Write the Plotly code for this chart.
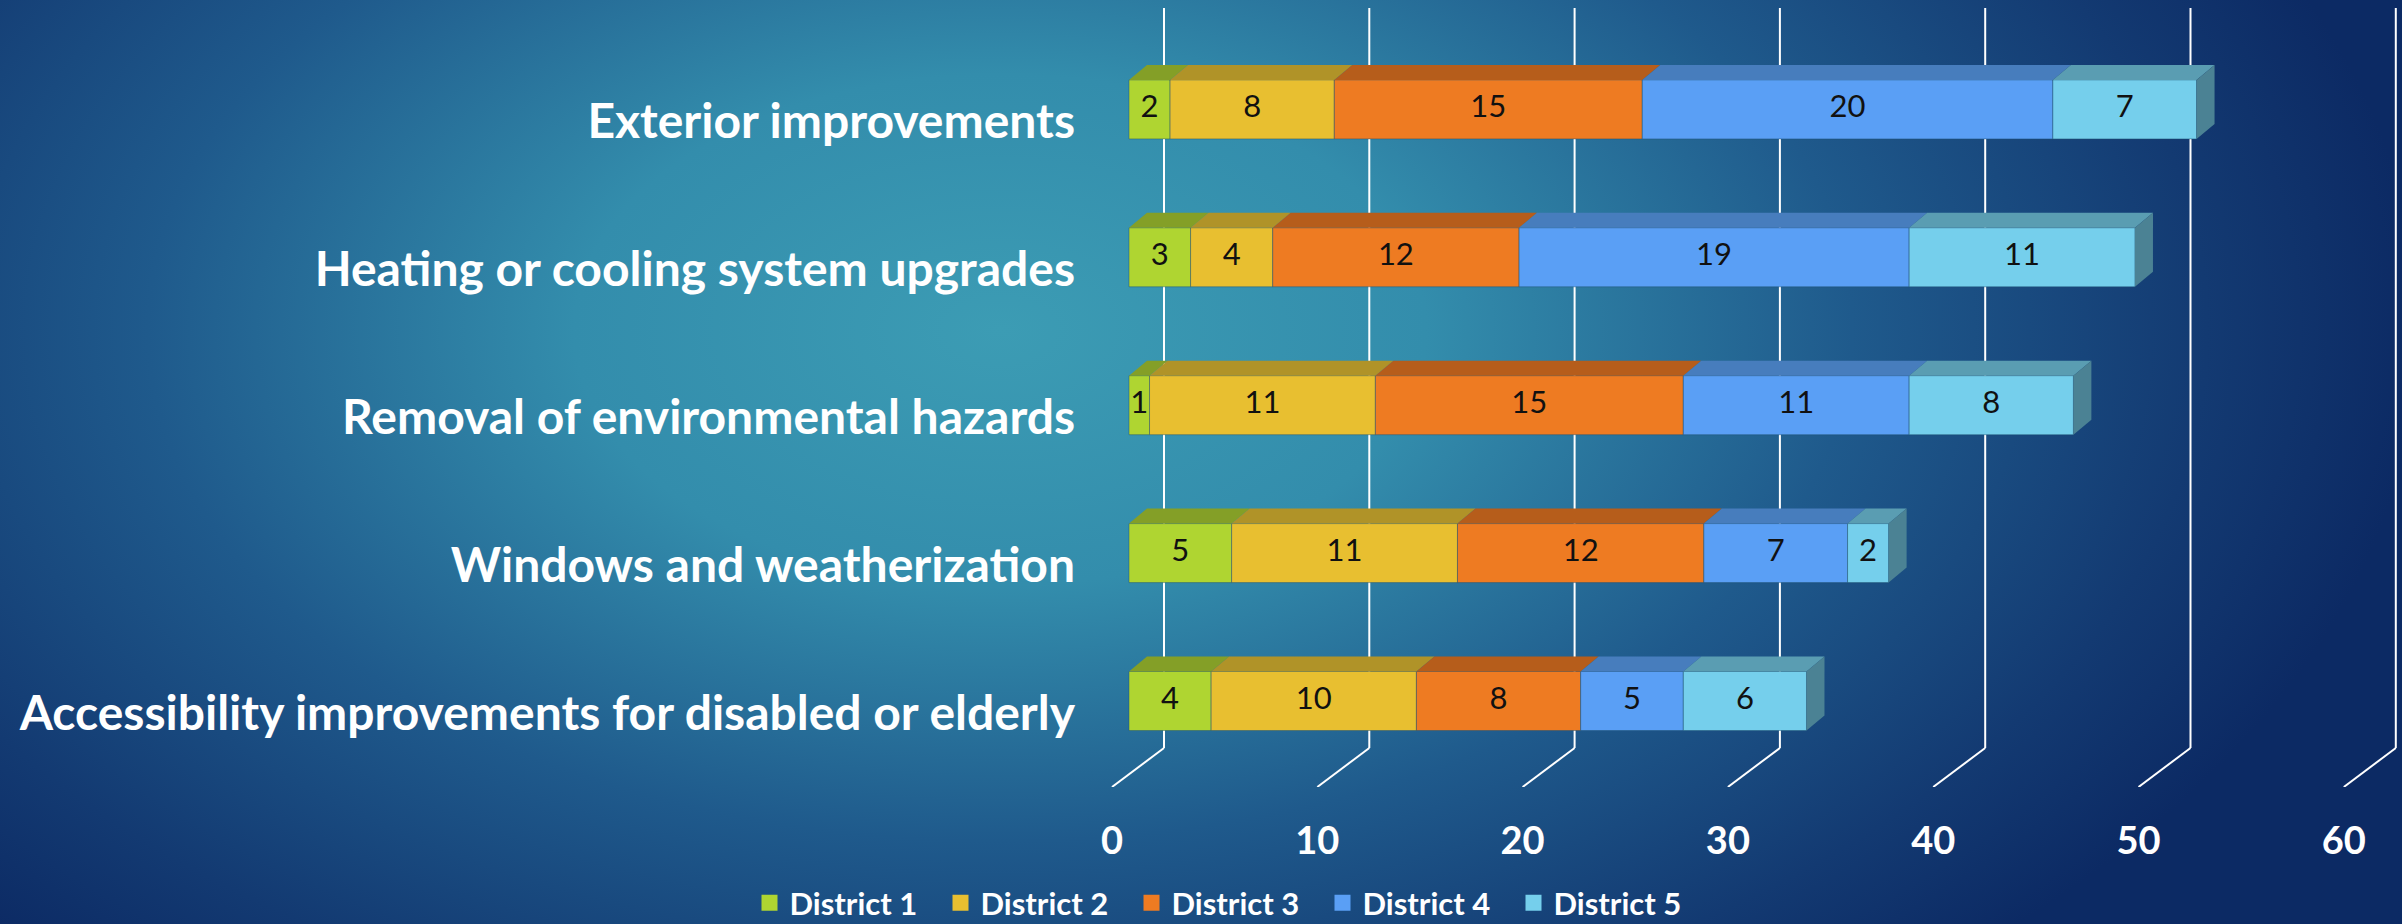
import base64
import plotly.graph_objects as go

# ---------------- data ----------------
categories = [
    "Accessibility improvements for disabled or elderly",
    "Windows and weatherization",
    "Removal of environmental hazards",
    "Heating or cooling system upgrades",
    "Exterior improvements",
]
series_names = ["District 1", "District 2", "District 3", "District 4", "District 5"]
district_1 = [4, 5, 1, 3, 2]
district_2 = [10, 11, 11, 4, 8]
district_3 = [8, 12, 15, 12, 15]
district_4 = [5, 7, 11, 19, 20]
district_5 = [6, 2, 8, 11, 7]
x_ticks = [0, 10, 20, 30, 40, 50, 60]

series_values = [district_1, district_2, district_3, district_4, district_5]
front_colors = ["#AFD531", "#E8BF30", "#EE7B22", "#5A9FF5", "#75CFEC"]
top_colors = ["#849F27", "#B09328", "#B65D1B", "#477DBD", "#5A9DB2"]
side_color = "#4B8294"

# ---------------- geometry (pixel mapping) ----------------
W, H = 2402, 924
PX_PER_X = 20.53          # px per value unit
X0_PX = 1129              # px of value 0 on the bar front plane
L = 1088                  # plot area left
PY_PER = 147.9            # px per category step
Y0_PX = 701               # px of category 0 centre
T, B = 8, 787             # plot area top / bottom px

xmin = -(X0_PX - L) / PX_PER_X
xmax = (W - X0_PX) / PX_PER_X
ymax = (Y0_PX - T) / PY_PER
ymin = (Y0_PX - B) / PY_PER

BACK_OFF = (1164 - X0_PX) / PX_PER_X     # back wall offset
FRONT_OFF = (1112 - X0_PX) / PX_PER_X    # front floor offset
FLOOR_BACK_Y = (Y0_PX - 748) / PY_PER
DDX = 18 / PX_PER_X                      # depth of bars (x)
DDY = 15 / PY_PER                        # depth of bars (y)
BAR_H = 59 / PY_PER

ypos = list(range(len(categories)))

fig = go.Figure()

# gridlines: back wall verticals + floor diagonals
shapes = []
for v in x_ticks:
    shapes.append(dict(type="line", xref="x", yref="y", layer="below",
                       x0=v + BACK_OFF, x1=v + BACK_OFF, y0=FLOOR_BACK_Y, y1=ymax,
                       line=dict(color="white", width=2)))
    shapes.append(dict(type="line", xref="x", yref="y", layer="below",
                       x0=v + BACK_OFF, x1=v + FRONT_OFF, y0=FLOOR_BACK_Y, y1=ymin,
                       line=dict(color="white", width=2)))

# bars (front faces)
bases = [[0] * len(categories)]
for s in range(len(series_values) - 1):
    bases.append([bases[-1][i] + series_values[s][i] for i in range(len(categories))])
totals = [bases[-1][i] + series_values[-1][i] for i in range(len(categories))]

for s, (name, vals) in enumerate(zip(series_names, series_values)):
    fig.add_trace(go.Bar(
        y=ypos, x=vals, base=bases[s], orientation="h", name=name, width=BAR_H,
        legendgroup=name, showlegend=False,
        marker=dict(color=front_colors[s], line=dict(color="rgba(30,80,110,0.45)", width=1)),
        hoverinfo="x+name",
    ))
    # legend entry with a larger square swatch
    fig.add_trace(go.Scatter(
        x=[None], y=[None], mode="markers", name=name, legendgroup=name,
        marker=dict(symbol="square", size=18, color=front_colors[s], line=dict(width=0)),
    ))
    # top faces
    for i in range(len(categories)):
        b0 = bases[s][i]
        b1 = b0 + vals[i]
        yt = ypos[i] + BAR_H / 2
        path = (f"M{b0},{yt} L{b1},{yt} L{b1 + DDX},{yt + DDY} "
                f"L{b0 + DDX},{yt + DDY} Z")
        shapes.append(dict(type="path", xref="x", yref="y", layer="above", path=path,
                           fillcolor=top_colors[s], line=dict(width=0)))

# side faces on the right end
for i in range(len(categories)):
    t = totals[i]
    yb = ypos[i] - BAR_H / 2
    yt = ypos[i] + BAR_H / 2
    path = (f"M{t},{yb} L{t},{yt} L{t + DDX},{yt + DDY} L{t + DDX},{yb + DDY} Z")
    shapes.append(dict(type="path", xref="x", yref="y", layer="above", path=path,
                       fillcolor=side_color, line=dict(width=0)))

# data labels
lab_x, lab_y, lab_t = [], [], []
for s, vals in enumerate(series_values):
    for i in range(len(categories)):
        lab_x.append(bases[s][i] + vals[i] / 2)
        lab_y.append(ypos[i])
        lab_t.append(str(vals[i]))
fig.add_trace(go.Scatter(x=lab_x, y=lab_y, text=lab_t, mode="text", showlegend=False,
                         hoverinfo="skip",
                         textfont=dict(family="Lato", size=31, color="#111111")))

# background gradient as an inline svg
svg = f"""<svg xmlns='http://www.w3.org/2000/svg' width='{W}' height='{H}' viewBox='0 0 {W} {H}' preserveAspectRatio='none'>
<defs><radialGradient id='g' gradientUnits='userSpaceOnUse' cx='1000' cy='330' r='1420'
 gradientTransform='translate(1000 330) scale(1 0.6) translate(-1000 -330)'>
<stop offset='0' stop-color='#3c9cb4'/>
<stop offset='0.3' stop-color='#338dac'/>
<stop offset='0.6' stop-color='#1f5a8c'/>
<stop offset='0.85' stop-color='#133a72'/>
<stop offset='1' stop-color='#0c2a64'/>
</radialGradient></defs>
<rect width='{W}' height='{H}' fill='url(#g)'/></svg>"""
src = "data:image/svg+xml;base64," + base64.b64encode(svg.encode()).decode()

pw = W - L
ph = B - T
fig.update_layout(
    width=W, height=H,
    margin=dict(l=L, r=0, t=T, b=H - B, autoexpand=False),
    barmode="overlay",
    paper_bgcolor="#1a4a80",
    plot_bgcolor="rgba(0,0,0,0)",
    shapes=shapes,
    images=[dict(source=src, xref="paper", yref="paper", x=-L / pw, y=1 + T / ph,
                 sizex=W / pw, sizey=H / ph, sizing="stretch", xanchor="left",
                 yanchor="top", layer="below")],
    showlegend=True,
    legend=dict(orientation="h", xanchor="center", yanchor="middle",
                x=(1227 - L) / pw, y=(B - 903) / ph,
                font=dict(family="Lato", size=31, color="white", weight="bold"),
                entrywidth=146, entrywidthmode="pixels", itemsizing="trace",
                bgcolor="rgba(0,0,0,0)", traceorder="normal"),
    xaxis=dict(range=[xmin, xmax], tickvals=x_ticks, ticktext=[str(v) for v in x_ticks],
               showgrid=False, zeroline=False, showline=False, ticks="",
               tickfont=dict(family="Lato", size=38, color="white", weight="bold"),
               ticklabelshift=-17, ticklabelstandoff=28, automargin=False),
    yaxis=dict(range=[ymin, ymax], tickvals=ypos, ticktext=categories,
               showgrid=False, zeroline=False, showline=False, ticks="",
               tickfont=dict(family="Lato", size=48, color="white", weight="bold"),
               ticklabelshift=12, ticklabelstandoff=12, automargin=False),
)

fig.write_html("out.html", config={"displayModeBar": False},
               post_script="document.body.style.margin='0';document.body.style.overflow='hidden';")
